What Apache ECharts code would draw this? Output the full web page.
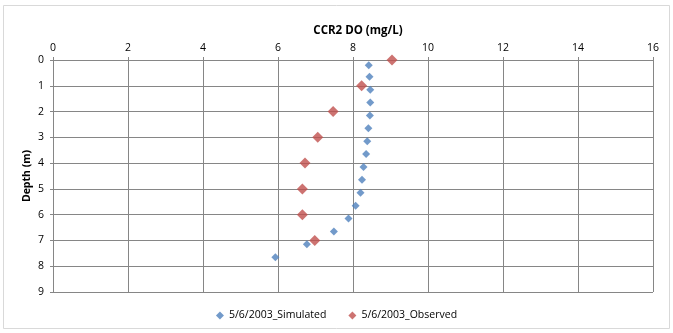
<!DOCTYPE html>
<html><head><meta charset="utf-8">
<script src="https://cdn.jsdelivr.net/npm/echarts@6/dist/echarts.min.js"></script>
<style>html,body{margin:0;padding:0;background:#fff}#c{width:673px;height:333px}</style>
</head><body><div id="c"></div>
<script>
const simDepth = [0.2,0.65,1.15,1.65,2.15,2.65,3.15,3.65,4.15,4.65,5.15,5.65,6.15,6.65,7.15,7.65];
const simDO = [8.42,8.44,8.46,8.46,8.45,8.41,8.38,8.35,8.28,8.24,8.20,8.07,7.88,7.49,6.77,5.93];
const obsDepth = [0,1,2,3,4,5,6,7];
const obsDO = [9.04,8.23,7.47,7.06,6.72,6.65,6.65,6.98];
const xTicks = [0,2,4,6,8,10,12,14,16];
const yTicks = [0,1,2,3,4,5,6,7,8,9];
const titleText = 'CCR2 DO (mg/L)';
const yTitle = 'Depth (m)';
const simName = '5/6/2003_Simulated';
const obsName = '5/6/2003_Observed';

const chart = echarts.init(document.getElementById('c'), null, {renderer:'canvas'});
const font = 'Open Sans';
chart.setOption({
  animation:false,
  backgroundColor:'#fff',
  graphic:[{type:'rect',shape:{x:3.5,y:5.5,width:666,height:323},style:{fill:'none',stroke:'#d9d9d9',lineWidth:1}}],
  title:{text:titleText,left:353,top:20,textAlign:'center',textStyle:{fontFamily:font,fontSize:11.5,fontWeight:'bold',color:'#000'}},
  grid:{left:53,right:20,top:60,bottom:41},
  xAxis:{type:'value',position:'top',min:0,max:16,interval:2,
    axisLine:{show:true,lineStyle:{color:'#868686'}},
    axisTick:{show:true,length:3,lineStyle:{color:'#868686'}},
    axisLabel:{fontFamily:font,fontSize:10.5,color:'#000',margin:6,formatter:v=>xTicks.includes(v)?String(v):''},
    splitLine:{show:true,lineStyle:{color:'#868686',width:1}}},
  yAxis:{type:'value',inverse:true,min:0,max:9,interval:1,
    name:yTitle,nameLocation:'middle',nameGap:20,nameMoveOverlap:false,
    nameTextStyle:{fontFamily:font,fontSize:10.5,fontWeight:'bold',color:'#000'},
    axisLine:{show:true,lineStyle:{color:'#868686'}},
    axisTick:{show:true,length:3,lineStyle:{color:'#868686'}},
    axisLabel:{fontFamily:font,fontSize:10.5,color:'#000',margin:9,formatter:v=>yTicks.includes(v)?String(v):''},
    splitLine:{show:true,lineStyle:{color:'#868686',width:1}}},
  legend:{bottom:7,left:'center',itemWidth:8,itemHeight:8,itemGap:22,
    textStyle:{fontFamily:font,fontSize:10.5,color:'#000'},
    data:[{name:simName,icon:'diamond'},{name:obsName,icon:'diamond'}]},
  series:[
    {name:simName,type:'scatter',symbol:'diamond',symbolSize:8,itemStyle:{color:'#4F81BD'},
     data:simDO.map((v,i)=>[v,simDepth[i]])},
    {name:obsName,type:'scatter',symbol:'diamond',symbolSize:11,itemStyle:{color:'#C0504D'},
     data:obsDO.map((v,i)=>[v,obsDepth[i]])}
  ]
});
</script></body></html>
